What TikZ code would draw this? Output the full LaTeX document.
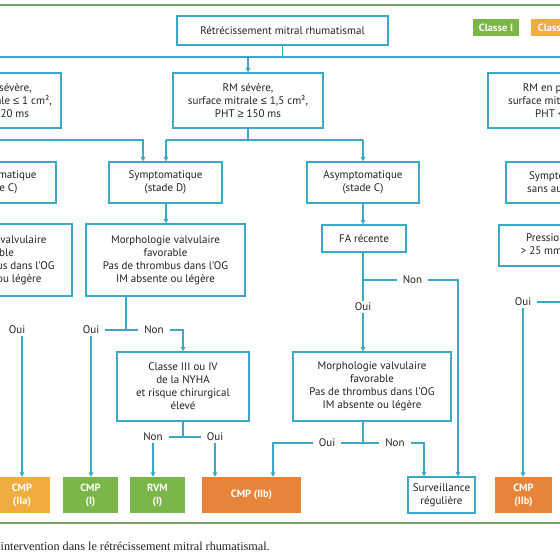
\documentclass[tikz,border=0pt]{standalone}
\usepackage{fontspec}
\setmainfont{Liberation Serif}
\newfontfamily\boxfont{PT Sans}
\newfontfamily\symfont{Liberation Sans}
\newcommand{\mle}{{\symfont ≤}}
\newcommand{\mge}{{\symfont ≥}}
\usetikzlibrary{arrows.meta,calc}
\definecolor{lblue}{RGB}{60,168,200}
\definecolor{txt}{RGB}{35,35,35}
\definecolor{cgreen}{RGB}{122,182,72}
\definecolor{corange}{RGB}{232,132,58}
\definecolor{cyellow}{RGB}{240,172,62}
\definecolor{framegreen}{RGB}{125,160,100}
\tikzset{
  box/.style={draw=lblue, line width=1.1pt, fill=white, align=center, text=txt,
    font=\boxfont\fontsize{11}{13}\selectfont, inner sep=0pt},
  classbox/.style={fill=#1, align=center, text=white,
    font=\boxfont\bfseries\fontsize{10.5}{13}\selectfont, inner sep=0pt},
  legbox/.style={fill=#1, align=center, text=white,
    font=\boxfont\bfseries\fontsize{10.5}{12}\selectfont, inner sep=0pt},
  boxsize/.style 2 args={minimum width=#1pt, minimum height=#2pt},
  lab/.style={text=txt, font=\boxfont\fontsize{11}{13}\selectfont, inner xsep=6pt, inner ysep=2pt},
  conn/.style={draw=lblue, line width=1.1pt},
  arr/.style={conn, -{Triangle[length=4.5pt,width=4.5pt]}},
  framel/.style={draw=framegreen, line width=1.4pt}
}
\begin{document}
\begin{tikzpicture}[x=1pt,y=-1pt]
\useasboundingbox (0,0) rectangle (560,560);
\clip (0,0) rectangle (560,560);
\fill[white] (0,0) rectangle (560,560);
\draw[framel] (0,5) -- (560,5);
\draw[framel] (0,523) -- (560,523);

% legend
\node[legbox=cgreen, boxsize={46}{17}] (legI) at (496,27.5) {Classe I};
\node[legbox=cyellow, boxsize={56}{17}] (legIIa) at (559,27.5) {Classe IIa};

% top
\node[box, boxsize={211}{29}] (top) at (282.5,30.5) {Rétrécissement mitral rhumatismal};

% row 1
\node[box, boxsize={130}{55}] (rmtsev) at (-4,100.5) {RM très sévère,\\surface mitrale \mle{} 1 cm²,\\PHT \mge{} 220 ms};
\node[box, boxsize={150}{55}] (rmsev) at (248,100.5) {RM sévère,\\surface mitrale \mle{} 1,5 cm²,\\PHT \mge{} 150 ms};
\node[box, boxsize={160}{55}] (rmprog) at (568,100.5) {RM en progression,\\surface mitrale > 1,5 cm²,\\PHT < 150 ms};

% row 2
\node[box, boxsize={118}{41}] (asymL) at (-3,182.5) {Asymptomatique\\(stade C)};
\node[box, boxsize={113}{41}] (symD) at (165.5,182.5) {Symptomatique\\(stade D)};
\node[box, boxsize={112}{41}] (asymC) at (363,182.5) {Asymptomatique\\(stade C)};
\node[box, boxsize={120}{41}] (symR) at (566,182.5) {Symptomatique\\sans autre cause};

% row 3
\node[box, boxsize={160}{72}] (morphL) at (-8,260) {Morphologie valvulaire\\favorable\\Pas de thrombus dans l’OG\\IM absente ou légère};
\node[box, boxsize={159}{72}] (morphD) at (165.5,260) {Morphologie valvulaire\\favorable\\Pas de thrombus dans l’OG\\IM absente ou légère};
\node[box, boxsize={84}{27}] (fa) at (364,238.5) {FA récente};
\node[box, boxsize={140}{41}] (pressR) at (569,245.5) {Pression capillaire\\> 25 mmHg à l’effort};

% row 4
\node[box, boxsize={132}{69}] (nyha) at (183,386.5) {Classe III ou IV\\de la NYHA\\et risque chirurgical\\élevé};
\node[box, boxsize={158}{69}] (morphC) at (372,386.5) {Morphologie valvulaire\\favorable\\Pas de thrombus dans l’OG\\IM absente ou légère};

% bottom
\node[classbox=cyellow, boxsize={55}{36}] (cmpIIa) at (22,495) {CMP\\(IIa)};
\node[classbox=cgreen, boxsize={55}{36}] (cmpI) at (90.5,495) {CMP\\(I)};
\node[classbox=cgreen, boxsize={55}{36}] (rvm) at (157.5,495) {RVM\\(I)};
\node[classbox=corange, boxsize={99}{36}] (cmpIIb) at (251.5,495) {CMP (IIb)};
\node[box, boxsize={67}{36}] (surv) at (441.5,495) {Surveillance\\régulière};
\node[classbox=corange, boxsize={57}{36}] (cmpIIbR) at (523.5,495) {CMP\\(IIb)};

% labels
\node[lab] (ouiL) at (17,330) {Oui};
\node[lab] (ouiD) at (91,330) {Oui};
\node[lab] (nonD) at (154,330) {Non};
\node[lab] (nonN) at (153,437) {Non};
\node[lab] (ouiN) at (215,437) {Oui};
\node[lab] (nonFA) at (412.5,280) {Non};
\node[lab] (ouiFA) at (363,307) {Oui};
\node[lab] (ouiC) at (327,443) {Oui};
\node[lab] (nonC) at (395,443) {Non};
\node[lab] (ouiR) at (523,302) {Oui};

% connectors: top
\coordinate (hub) at (282.5,57);
\draw[conn] (top.south) -- (hub);
\draw[conn] (rmtsev.north |- hub) -- (rmprog.north |- hub);
\draw[arr] (rmtsev.north |- hub) -- (rmtsev.north);
\draw[arr] (rmsev.north |- hub) -- (rmsev.north);
\draw[arr] (rmprog.north |- hub) -- (rmprog.north);

% row 1 -> row 2
\coordinate (lrow) at (0,140);
\draw[conn] (rmtsev.south) -- (rmtsev.south |- lrow);
\draw[arr] (asymL.north |- lrow) -- (asymL.north);
\draw[arr] (asymL.north |- lrow) -| ([xshift=-22.5pt]symD.north);
\draw[conn] (rmsev.south) -- (rmsev.south |- lrow);
\draw[conn] ([xshift=0.5pt]symD.north |- lrow) -- (asymC.north |- lrow);
\draw[arr] ([xshift=0.5pt]symD.north |- lrow) -- ([xshift=0.5pt]symD.north);
\draw[arr] (asymC.north |- lrow) -- (asymC.north);
\draw[arr] (rmprog.south) -- (rmprog.south |- symR.north);

% row 2 -> row 3
\draw[arr] (asymL.south) -- (asymL.south |- morphL.north);
\draw[arr] ([xshift=0.5pt]symD.south) -- ([xshift=0.5pt]symD.south |- morphD.north);
\draw[arr] (asymC.south) -- (asymC.south |- fa.north);
\draw[arr] (symR.south) -- (symR.south |- pressR.north);

% left column
\draw[conn] (morphL.south) |- ([xshift=-2.5pt]ouiL.west);
\draw[arr] (ouiL.south -| cmpIIa.north) -- (cmpIIa.north);

% stade D column
\coordinate (dsplit) at (126,330);
\draw[conn] (morphD.south -| dsplit) -- (dsplit);
\draw[conn] (ouiD.east) -- (nonD.west);
\draw[arr] (nonD.east) -| (nyha.north);
\draw[arr] (ouiD.south) -- (ouiD.south |- cmpI.north);
\draw[conn] (nyha.south) -- (nyha.south |- nonN);
\draw[conn] (nonN.east) -- (ouiN.west);
\draw[arr] (nonN.south) -- (nonN.south |- rvm.north);
\draw[arr] (ouiN.south) -- (ouiN.south |- cmpIIb.north);

% stade C column
\draw[conn] (fa.south -| ouiFA) -- (ouiFA.north);
\draw[conn] (fa.south -| ouiFA) |- (nonFA.west);
\draw[arr] (nonFA.east) -| ([xshift=16.5pt]surv.north);
\draw[arr] (ouiFA.south) -- (ouiFA.south |- morphC.north);
\draw[conn] (morphC.south -| ouiFA) -- (ouiFA |- ouiC);
\draw[conn] (ouiC.east) -- (nonC.west);
\draw[arr] (ouiC.west) -| ([xshift=21.5pt]cmpIIb.north);
\draw[arr] (nonC.east) -| ([xshift=-17.5pt]surv.north);

% right column
\draw[conn] (pressR.south) |- (ouiR.east);
\draw[arr] (ouiR.south) -- (ouiR.south |- cmpIIbR.north);

% caption
\node[anchor=west, inner sep=0pt, text=txt, font=\fontsize{12.2}{14}\selectfont] (cap) at (0.5,546) {intervention dans le rétrécissement mitral rhumatismal.};
\end{tikzpicture}
\end{document}
